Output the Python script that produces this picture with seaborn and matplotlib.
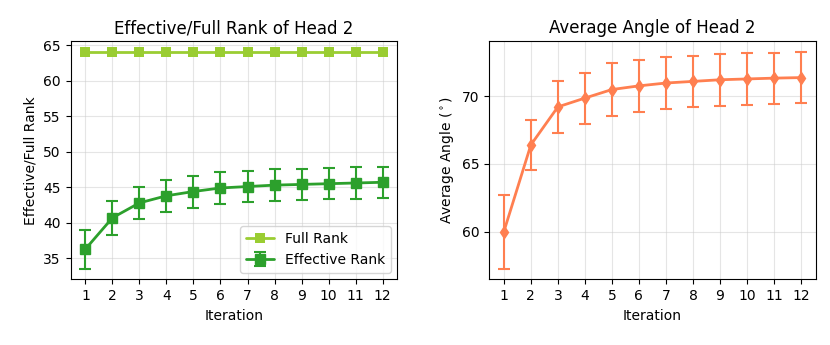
import matplotlib
matplotlib.use("Agg")
import matplotlib.pyplot as plt
import seaborn as sns
import pandas as pd

# Data
iterations = list(range(1, 13))
full_rank = [64] * 12
eff_rank = [36.3, 40.7, 42.8, 43.8, 44.4, 44.9, 45.1, 45.3, 45.4, 45.5, 45.6, 45.7]
eff_rank_err = [2.75, 2.35, 2.3, 2.25, 2.25, 2.2, 2.2, 2.2, 2.2, 2.2, 2.2, 2.2]
angle = [60.0, 66.4, 69.2, 69.85, 70.48, 70.75, 70.96, 71.08, 71.2, 71.26, 71.32, 71.36]
angle_err = [2.72, 1.85, 1.93, 1.88, 1.95, 1.92, 1.9, 1.9, 1.9, 1.9, 1.88, 1.87]

sns.set_style("ticks", {'text.color': 'black', 'axes.labelcolor': 'black',
                        'xtick.color': 'black', 'ytick.color': 'black',
                        'axes.edgecolor': 'black'})
plt.rcParams['font.family'] = ['DejaVu Sans']

df = pd.DataFrame({'Iteration': iterations, 'full': full_rank, 'eff': eff_rank, 'angle': angle})

fig, axes = plt.subplots(1, 2, figsize=(8.3, 3.45), dpi=100)
plt.subplots_adjust(left=0.085, right=0.983, top=0.88, bottom=0.19, wspace=0.28)

# Rank plot
ax = axes[0]
sns.lineplot(data=df, x='Iteration', y='full', ax=ax, color='yellowgreen', marker='s',
             markersize=7, markeredgewidth=0, linewidth=2, label='Full Rank')
ax.errorbar(iterations, eff_rank, yerr=eff_rank_err, color='#2ca02c', marker='s',
            markersize=7, linewidth=2, capsize=4.5, elinewidth=1.5, capthick=1.5,
            label='Effective Rank')
ax.set_title('Effective/Full Rank of Head 2', fontsize=12)
ax.set_xlabel('Iteration', fontsize=10)
ax.set_ylabel('Effective/Full Rank', fontsize=10)
ax.set_xticks(iterations)
ax.grid(True, alpha=0.5)
ax.legend(loc='lower right', fontsize=10)

# Angle plot
ax = axes[1]
ax.errorbar(iterations, angle, yerr=angle_err, color='coral', marker='d',
            markersize=6, linewidth=2, capsize=4, elinewidth=1.5, capthick=1.5)
ax.set_title('Average Angle of Head 2', fontsize=12)
ax.set_xlabel('Iteration', fontsize=10)
ax.set_ylabel(r'Average Angle ($^\circ$)', fontsize=10)
ax.set_xticks(iterations)
ax.set_yticks([60, 65, 70])
ax.grid(True, alpha=0.5)

for a in axes:
    a.tick_params(labelsize=10)

plt.savefig('out.png', dpi=100)
